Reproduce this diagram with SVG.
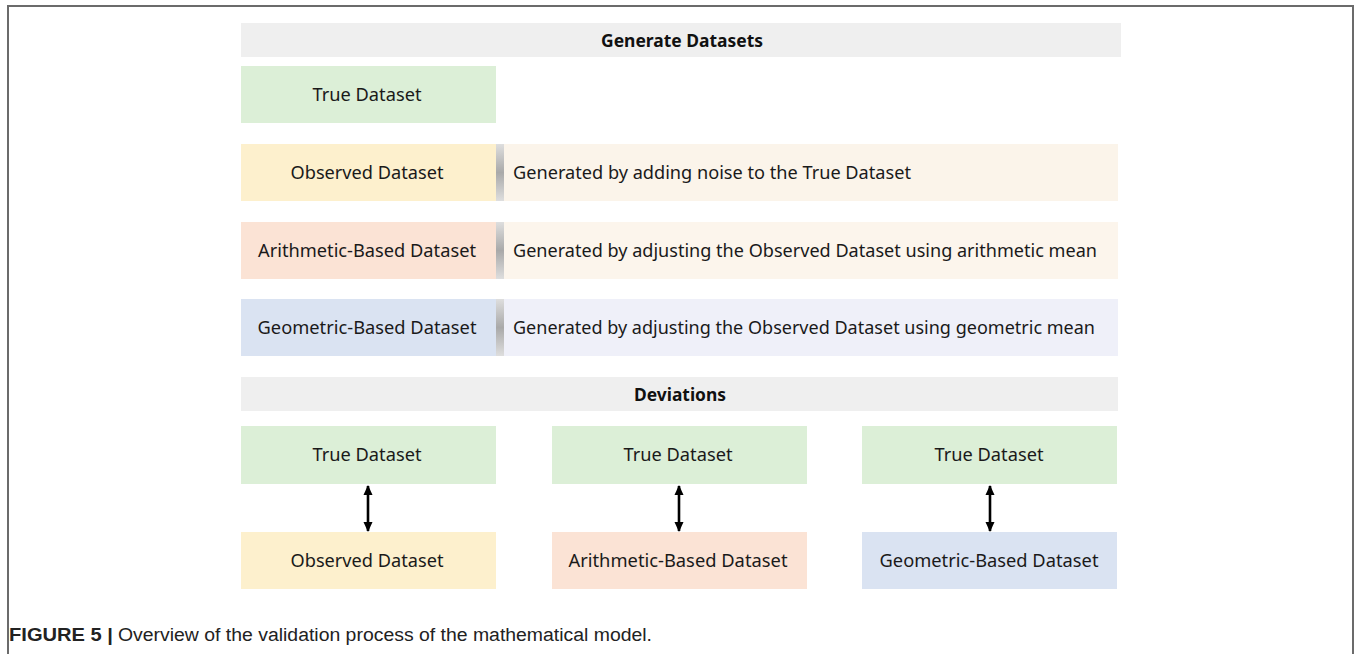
<svg xmlns="http://www.w3.org/2000/svg" width="1356" height="654" viewBox="0 0 1356 654">
<style>
.t{font-family:"Noto Sans","Open Sans",sans-serif;font-size:18.5px;fill:#1a1a1a;text-anchor:middle}
.d{font-family:"Noto Sans","Open Sans",sans-serif;font-size:18.5px;fill:#1a1a1a}
.h{font-family:"Noto Sans","Open Sans",sans-serif;font-size:18px;font-weight:bold;fill:#111;text-anchor:middle}
.hdr{fill:#efefef}
.green{fill:#dcefd7}
.yellow{fill:#fdf0cd}
.orange{fill:#fbe3d5}
.blue{fill:#dae3f2}
.arr{stroke:#000;stroke-width:2.6;fill:none}
.cap{font-family:"Liberation Sans",Arial,sans-serif;font-size:18px;fill:#222}
</style>
<defs>
<linearGradient id="strip" x1="0" y1="0" x2="0" y2="1">
<stop offset="0" stop-color="#dedede"/>
<stop offset="0.5" stop-color="#a9a9a9"/>
<stop offset="1" stop-color="#dedede"/>
</linearGradient>
<marker id="ah" viewBox="0 0 10 10" refX="9" refY="5" markerWidth="10" markerHeight="10" markerUnits="userSpaceOnUse" orient="auto-start-reverse">
<path d="M0,0.5 L10,5 L0,9.5 Z" fill="#000"/>
</marker>
</defs>
<rect width="1356" height="654" fill="#fff"/>
<path d="M8,654 V6 H1353 V654" fill="none" stroke="#6b6b6b" stroke-width="2"/>

<g id="generate-header">
<rect class="hdr" x="241" y="23" width="880" height="34"/>
<text class="h" x="682" y="47" textLength="162" lengthAdjust="spacingAndGlyphs">Generate Datasets</text>
</g>
<g id="true-dataset-top">
<rect class="green" x="241" y="66" width="255" height="57"/>
<text class="t" x="367" y="101" textLength="109" lengthAdjust="spacingAndGlyphs">True Dataset</text>
</g>
<g id="observed-row">
<rect class="yellow" x="241" y="144" width="255" height="57"/>
<rect x="496" y="144" width="8" height="57" fill="url(#strip)"/>
<rect x="504" y="144" width="614" height="57" fill="#fbf4ea"/>
<text class="t" x="367" y="179" textLength="153" lengthAdjust="spacingAndGlyphs">Observed Dataset</text>
<text class="d" x="513" y="179" textLength="398" lengthAdjust="spacingAndGlyphs">Generated by adding noise to the True Dataset</text>
</g>
<g id="arithmetic-row">
<rect class="orange" x="241" y="222" width="255" height="57"/>
<rect x="496" y="222" width="8" height="57" fill="url(#strip)"/>
<rect x="504" y="222" width="614" height="57" fill="#fcf5ec"/>
<text class="t" x="367" y="257" textLength="218" lengthAdjust="spacingAndGlyphs">Arithmetic-Based Dataset</text>
<text class="d" x="513" y="257" textLength="584" lengthAdjust="spacingAndGlyphs">Generated by adjusting the Observed Dataset using arithmetic mean</text>
</g>
<g id="geometric-row">
<rect class="blue" x="241" y="299" width="255" height="57"/>
<rect x="496" y="299" width="8" height="57" fill="url(#strip)"/>
<rect x="504" y="299" width="614" height="57" fill="#eff0f9"/>
<text class="t" x="367" y="334" textLength="219" lengthAdjust="spacingAndGlyphs">Geometric-Based Dataset</text>
<text class="d" x="513" y="334" textLength="582" lengthAdjust="spacingAndGlyphs">Generated by adjusting the Observed Dataset using geometric mean</text>
</g>
<g id="deviations-header">
<rect class="hdr" x="241" y="377" width="877" height="34"/>
<text class="h" x="680" y="401" textLength="92" lengthAdjust="spacingAndGlyphs">Deviations</text>
</g>
<g id="dev-true-1">
<rect class="green" x="241" y="426" width="255" height="58"/>
<text class="t" x="367" y="461" textLength="109" lengthAdjust="spacingAndGlyphs">True Dataset</text>
</g>
<g id="dev-true-2">
<rect class="green" x="552" y="426" width="255" height="58"/>
<text class="t" x="678" y="461" textLength="109" lengthAdjust="spacingAndGlyphs">True Dataset</text>
</g>
<g id="dev-true-3">
<rect class="green" x="862" y="426" width="255" height="58"/>
<text class="t" x="989" y="461" textLength="109" lengthAdjust="spacingAndGlyphs">True Dataset</text>
</g>
<g id="dev-observed">
<rect class="yellow" x="241" y="532" width="255" height="57"/>
<text class="t" x="367" y="567" textLength="153" lengthAdjust="spacingAndGlyphs">Observed Dataset</text>
</g>
<g id="dev-arithmetic">
<rect class="orange" x="552" y="532" width="255" height="57"/>
<text class="t" x="678" y="567" textLength="219" lengthAdjust="spacingAndGlyphs">Arithmetic-Based Dataset</text>
</g>
<g id="dev-geometric">
<rect class="blue" x="862" y="532" width="255" height="57"/>
<text class="t" x="989" y="567" textLength="219" lengthAdjust="spacingAndGlyphs">Geometric-Based Dataset</text>
</g>
<g id="connectors">
<line class="arr" x1="368" y1="486" x2="368" y2="531" marker-start="url(#ah)" marker-end="url(#ah)"/>
<line class="arr" x1="679" y1="486" x2="679" y2="531" marker-start="url(#ah)" marker-end="url(#ah)"/>
<line class="arr" x1="990" y1="486" x2="990" y2="531" marker-start="url(#ah)" marker-end="url(#ah)"/>
</g>
<text class="cap" x="9" y="641"><tspan font-weight="bold" textLength="104" lengthAdjust="spacingAndGlyphs">FIGURE 5 |</tspan><tspan x="118" textLength="534" lengthAdjust="spacingAndGlyphs">Overview of the validation process of the mathematical model.</tspan></text>
</svg>
